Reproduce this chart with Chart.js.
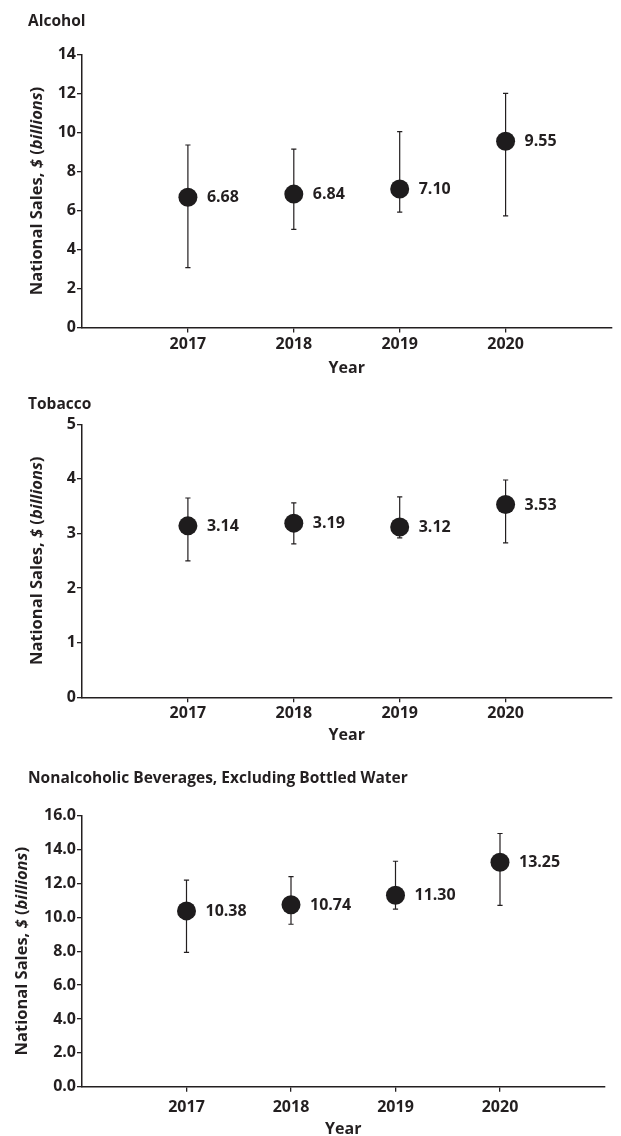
<!DOCTYPE html>
<html>
<head>
<meta charset="utf-8">
<title>National Sales by Year</title>
<script src="https://cdn.jsdelivr.net/npm/chart.js@4.4.1/dist/chart.umd.min.js"></script>
<style>
  html, body { margin: 0; padding: 0; background: #fff; }
  body { width: 621px; height: 1136px; position: relative; overflow: hidden; }
  .panel { position: absolute; left: 0; width: 621px; }
</style>
</head>
<body>
<div class="panel" style="top:0;height:380px"><canvas id="alcohol"></canvas></div>
<div class="panel" style="top:380px;height:370px"><canvas id="tobacco"></canvas></div>
<div class="panel" style="top:750px;height:386px"><canvas id="beverages"></canvas></div>

<script>
// Years on the x axis
const years = [2017, 2018, 2019, 2020];

// Alcohol: national sales, $ billions, with uncertainty range
const alcoholSales = [6.68, 6.84, 7.10, 9.55];
const alcoholLow   = [3.07, 5.03, 5.92, 5.72];
const alcoholHigh  = [9.36, 9.15, 10.04, 12.01];

// Tobacco
const tobaccoSales = [3.14, 3.19, 3.12, 3.53];
const tobaccoLow   = [2.50, 2.81, 2.92, 2.83];
const tobaccoHigh  = [3.65, 3.56, 3.67, 3.98];

// Nonalcoholic beverages, excluding bottled water
const beverageSales = [10.38, 10.74, 11.30, 13.25];
const beverageLow   = [7.93, 9.59, 10.49, 10.70];
const beverageHigh  = [12.20, 12.40, 13.31, 14.95];

// Y-axis tick values for each panel
const alcoholTicks  = [0, 2, 4, 6, 8, 10, 12, 14];
const tobaccoTicks  = [0, 1, 2, 3, 4, 5];
const beverageTicks = [0, 2, 4, 6, 8, 10, 12, 14, 16];

const INK = '#231f20';
const FONT = "'Open Sans', 'Noto Sans', sans-serif";
Chart.defaults.font.family = FONT;

// Draws error bars, value labels, the panel heading and the y-axis title
const panelDecor = {
  id: 'panelDecor',
  beforeDatasetsDraw(chart, args, opts) {
    const { ctx } = chart;
    const xs = chart.scales.x, ys = chart.scales.y;
    ctx.save();
    ctx.strokeStyle = INK;
    ctx.lineWidth = 1.2;
    opts.low.forEach((lo, i) => {
      const px = xs.getPixelForValue(years[i]);
      const yTop = ys.getPixelForValue(opts.high[i]);
      const yBot = ys.getPixelForValue(lo);
      ctx.beginPath();
      ctx.moveTo(px, yTop); ctx.lineTo(px, yBot);
      ctx.moveTo(px - 2.6, yTop); ctx.lineTo(px + 2.6, yTop);
      ctx.moveTo(px - 2.6, yBot); ctx.lineTo(px + 2.6, yBot);
      ctx.stroke();
    });
    ctx.restore();
  },
  afterDatasetsDraw(chart, args, opts) {
    const { ctx } = chart;
    const meta = chart.getDatasetMeta(0);
    ctx.save();
    ctx.fillStyle = INK;
    ctx.font = `bold 16px ${FONT}`;
    ctx.textAlign = 'left';
    ctx.textBaseline = 'alphabetic';
    meta.data.forEach((pt, i) => {
      ctx.fillText(opts.values[i].toFixed(2), pt.x + 19, pt.y + 5);
    });
    ctx.restore();
  },
  afterDraw(chart, args, opts) {
    const { ctx, chartArea } = chart;
    ctx.save();
    ctx.fillStyle = INK;
    // panel heading
    ctx.font = `bold 15.5px ${FONT}`;
    ctx.textAlign = 'left';
    ctx.textBaseline = 'alphabetic';
    ctx.fillText(opts.heading, 28, opts.headingBaseline);

    // rotated y-axis title with italic parts
    const parts = [
      ['National Sales, ', false],
      ['$', true],
      [' (', false],
      ['billions', true],
      [')', false]
    ];
    const fontFor = it => `${it ? 'italic ' : ''}bold ${opts.yTitleSize}px ${FONT}`;
    let total = 0;
    parts.forEach(([t, it]) => { ctx.font = fontFor(it); total += ctx.measureText(t).width; });
    const cy = (chartArea.top + chartArea.bottom) / 2;
    ctx.translate(opts.yTitleX, cy);
    ctx.rotate(-Math.PI / 2);
    ctx.textBaseline = 'middle';
    let x = -total / 2;
    parts.forEach(([t, it]) => {
      ctx.font = fontFor(it);
      ctx.fillText(t, x, 0);
      x += ctx.measureText(t).width;
    });
    ctx.restore();
  }
};

function makePanel(id, p) {
  return new Chart(document.getElementById(id), {
    type: 'scatter',
    data: {
      datasets: [{
        data: years.map((yr, i) => ({ x: yr, y: p.values[i] })),
        pointRadius: 9.5,
        pointHoverRadius: 9.5,
        backgroundColor: '#1e1c1d',
        borderWidth: 0
      }]
    },
    options: {
      responsive: true,
      maintainAspectRatio: false,
      animation: false,
      events: [],
      layout: { padding: p.padding },
      plugins: {
        legend: { display: false },
        tooltip: { enabled: false },
        panelDecor: {
          values: p.values, low: p.low, high: p.high,
          heading: p.heading, headingBaseline: p.headingBaseline,
          yTitleX: p.yTitleX, yTitleSize: 16.5
        }
      },
      scales: {
        x: {
          type: 'linear',
          min: 2016,
          max: 2021,
          afterBuildTicks: s => { s.ticks = years.map(v => ({ value: v })); },
          afterFit: s => { s.height = p.xHeight; },
          grid: { drawOnChartArea: false, drawTicks: true, tickLength: 5, color: INK, lineWidth: 1.3 },
          border: { display: true, color: INK, width: 1.5 },
          ticks: {
            color: INK, padding: p.xPad, autoSkip: false, maxRotation: 0,
            font: { size: 16, weight: 'bold' },
            callback: v => String(v)
          },
          title: {
            display: true, text: 'Year', color: INK,
            font: { size: 16, weight: 'bold' },
            padding: { top: 0, bottom: p.yearPad }
          }
        },
        y: {
          min: 0,
          max: p.ticks[p.ticks.length - 1],
          afterBuildTicks: s => { s.ticks = p.ticks.map(v => ({ value: v })); },
          afterFit: s => { s.width = 82; },
          grid: { drawOnChartArea: false, drawTicks: true, tickLength: 5, color: INK, lineWidth: 1.3 },
          border: { display: true, color: INK, width: 1.5 },
          ticks: {
            color: INK, padding: 1, autoSkip: false,
            font: { size: 16, weight: 'bold' },
            callback: p.fmt
          }
        }
      }
    },
    plugins: [panelDecor]
  });
}

makePanel('alcohol', {
  heading: 'Alcohol', headingBaseline: 26.2,
  values: alcoholSales, low: alcoholLow, high: alcoholHigh,
  ticks: alcoholTicks, fmt: v => String(v),
  padding: { top: 54.5, right: 6.5, bottom: 3.7, left: 0 },
  xHeight: 48.8, xPad: 2, yearPad: -2, yTitleX: 37.6
});

makePanel('tobacco', {
  heading: 'Tobacco', headingBaseline: 28.7,
  values: tobaccoSales, low: tobaccoLow, high: tobaccoHigh,
  ticks: tobaccoTicks, fmt: v => String(v),
  padding: { top: 44.3, right: 0.6, bottom: 7.4, left: 0 },
  xHeight: 45.3, xPad: 2, yearPad: -2, yTitleX: 37.6
});

makePanel('beverages', {
  heading: 'Nonalcoholic Beverages, Excluding Bottled Water', headingBaseline: 33.2,
  values: beverageSales, low: beverageLow, high: beverageHigh,
  ticks: beverageTicks, fmt: v => v.toFixed(1),
  padding: { top: 65.7, right: 16.5, bottom: 0, left: 0 },
  xHeight: 49.3, xPad: 6, yearPad: -2.6, yTitleX: 22.5
});
</script>
</body>
</html>
